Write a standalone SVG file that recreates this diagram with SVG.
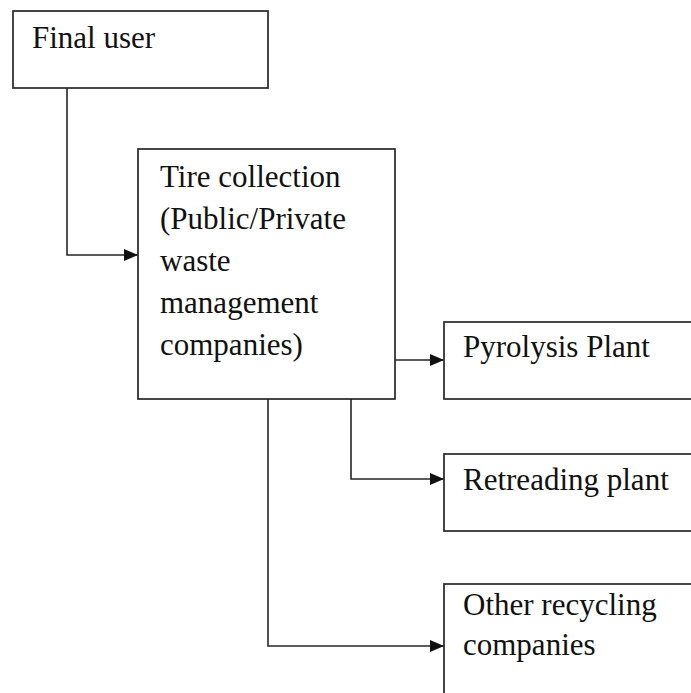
<svg xmlns="http://www.w3.org/2000/svg" width="691" height="693" viewBox="0 0 691 693">
  <style>
    .box { fill: #ffffff; stroke: #262626; stroke-width: 1.7; }
    .lbl { font-family: "Liberation Serif", "Times New Roman", serif; font-size: 31px; fill: #111111; }
    .wire { fill: none; stroke: #262626; stroke-width: 1.6; }
  </style>
  <defs>
    <marker id="arrow" viewBox="0 0 14 12" refX="14" refY="6" markerWidth="14" markerHeight="12" markerUnits="userSpaceOnUse" orient="auto">
      <path d="M0,0 L14,6 L0,12 z" fill="#111111"/>
    </marker>
  </defs>
  <rect width="691" height="693" fill="#ffffff"/>

  <g id="connectors">
    <path class="wire" d="M67,88 V255 H138" marker-end="url(#arrow)"/>
    <path class="wire" d="M395,360 H444" marker-end="url(#arrow)"/>
    <path class="wire" d="M351,399 V479 H444" marker-end="url(#arrow)"/>
    <path class="wire" d="M268,399 V646 H444" marker-end="url(#arrow)"/>
  </g>

  <g id="final-user">
    <rect class="box" x="13" y="11" width="255" height="77"/>
    <text class="lbl" x="32" y="48">Final user</text>
  </g>

  <g id="tire-collection">
    <rect class="box" x="138" y="149" width="257" height="250"/>
    <text class="lbl" x="160" y="187">Tire collection</text>
    <text class="lbl" x="160" y="229">(Public/Private</text>
    <text class="lbl" x="160" y="271">waste</text>
    <text class="lbl" x="160" y="313">management</text>
    <text class="lbl" x="160" y="355">companies)</text>
  </g>

  <g id="pyrolysis-plant">
    <rect class="box" x="444" y="322" width="260" height="77"/>
    <text class="lbl" x="463" y="357">Pyrolysis Plant</text>
  </g>

  <g id="retreading-plant">
    <rect class="box" x="444" y="454" width="260" height="77"/>
    <text class="lbl" x="463" y="490">Retreading plant</text>
  </g>

  <g id="other-recycling">
    <rect class="box" x="444" y="584" width="260" height="130"/>
    <text class="lbl" x="463" y="615">Other recycling</text>
    <text class="lbl" x="463" y="655">companies</text>
  </g>
</svg>
